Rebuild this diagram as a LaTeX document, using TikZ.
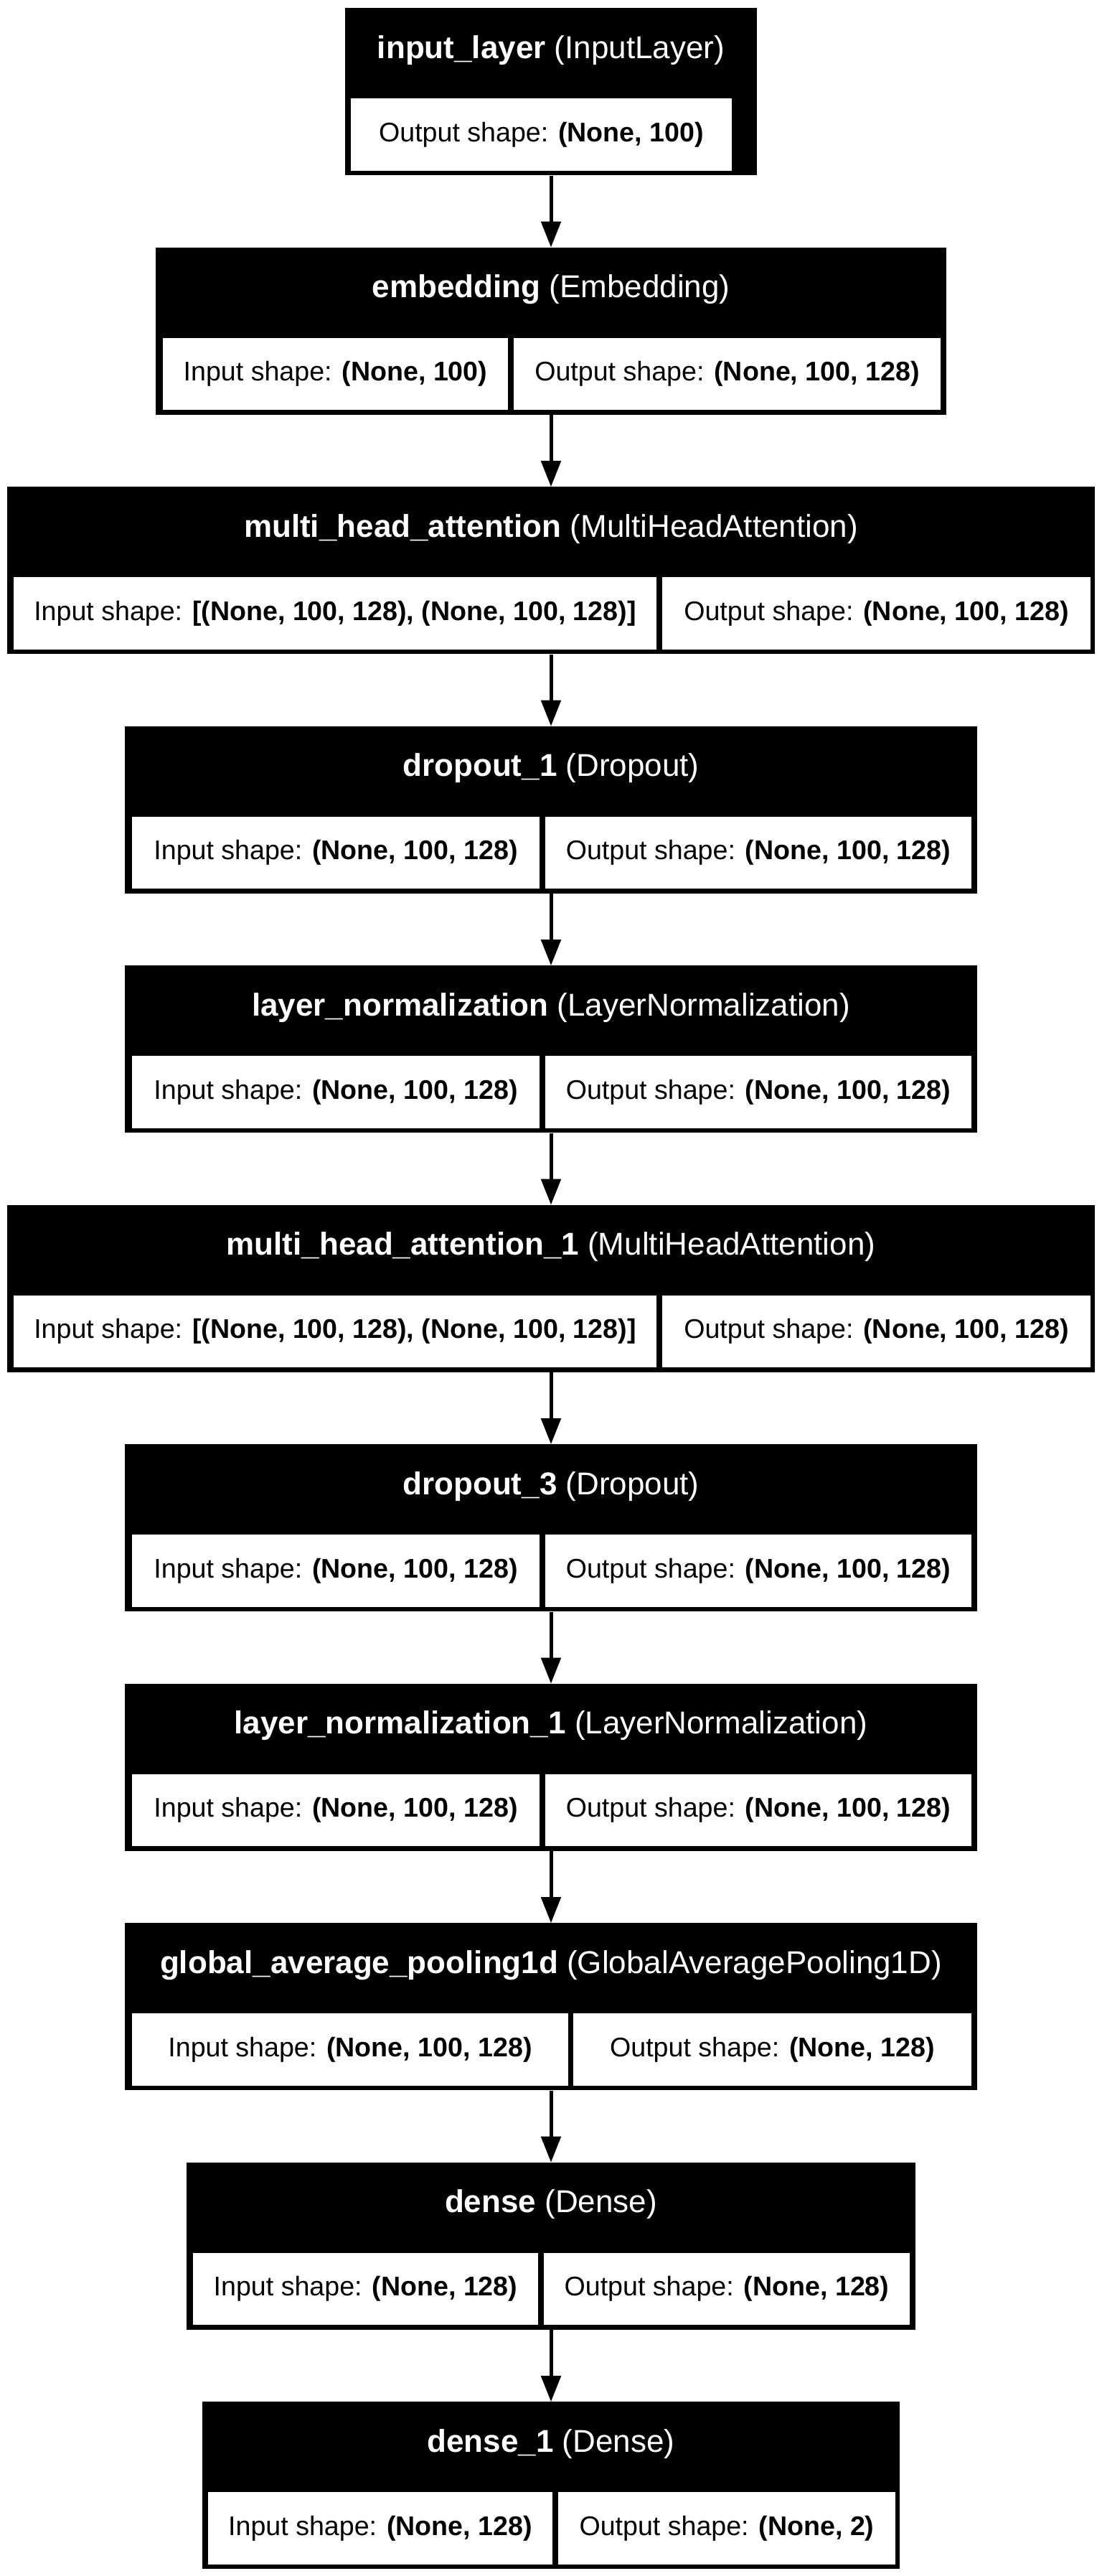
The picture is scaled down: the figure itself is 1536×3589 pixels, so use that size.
\documentclass[tikz,border=0pt]{standalone}
\usepackage{fontspec}
\setmainfont{Liberation Sans}
\usepackage{tikz}
\usetikzlibrary{arrows.meta}
\newcommand{\layerfont}{\fontsize{44}{53}\selectfont}
\newcommand{\shapefont}{\fontsize{37.6}{45}\selectfont}
\tikzstyle{layer} = [rectangle, fill=black, inner sep=0pt, minimum height=233pt]
\tikzstyle{title} = [anchor=base, text=white, inner sep=0pt, font=\layerfont]
\tikzstyle{cell} = [rectangle, fill=white, inner sep=0pt, minimum height=100.5pt,
                 text height=28pt, text depth=8.5pt, font=\shapefont]
\tikzstyle{flow} = [line width=5pt, -{Triangle[length=36pt, width=27pt]}]

\begin{document}
\begin{tikzpicture}[x=1pt, y=-1pt]

\fill[white] (0,0) rectangle (1536,3589);

% input layer
\node [layer, minimum width=574pt] (inlayer) at (768,127.9) {};
\node [title] (inlayer-t) at (768,81.4) {\textbf{input\_layer} (InputLayer)};
\node [cell, minimum width=531pt] (inlayer-out) at (754.5,187.65) {Output shape: \textbf{(None, 100)}};

% embedding
\node [layer, minimum width=1102pt] (embed) at (768,461.4) {};
\node [title] (embed-t) at (768,414.9) {\textbf{embedding} (Embedding)};
\node [cell, minimum width=481pt] (embed-in) at (467.5,521.15) {Input shape: \textbf{(None, 100)}};
\node [cell, minimum width=595pt] (embed-out) at (1013.5,521.15) {Output shape: \textbf{(None, 100, 128)}};

% attention
\node [layer, minimum width=1516pt] (mha) at (768,794.9) {};
\node [title] (mha-t) at (768,748.4) {\textbf{multi\_head\_attention} (MultiHeadAttention)};
\node [cell, minimum width=896pt] (mha-in) at (467,854.65) {Input shape: \textbf{[(None, 100, 128), (None, 100, 128)]}};
\node [cell, minimum width=597pt] (mha-out) at (1221.5,854.65) {Output shape: \textbf{(None, 100, 128)}};

\node [layer, minimum width=1188pt] (drop1) at (768,1128.4) {};
\node [title] (drop1-t) at (768,1081.9) {\textbf{dropout\_1} (Dropout)};
\node [cell, minimum width=568pt] (drop1-in) at (468,1188.15) {Input shape: \textbf{(None, 100, 128)}};
\node [cell, minimum width=594pt] (drop1-out) at (1057,1188.15) {Output shape: \textbf{(None, 100, 128)}};

\node [layer, minimum width=1188pt] (norm) at (768,1461.9) {};
\node [title] (norm-t) at (768,1415.4) {\textbf{layer\_normalization} (LayerNormalization)};
\node [cell, minimum width=568pt] (norm-in) at (468,1521.65) {Input shape: \textbf{(None, 100, 128)}};
\node [cell, minimum width=594pt] (norm-out) at (1057,1521.65) {Output shape: \textbf{(None, 100, 128)}};

% second attention
\node [layer, minimum width=1516pt] (mha1) at (768,1795.4) {};
\node [title] (mha1-t) at (768,1748.9) {\textbf{multi\_head\_attention\_1} (MultiHeadAttention)};
\node [cell, minimum width=896pt] (mha1-in) at (467,1855.15) {Input shape: \textbf{[(None, 100, 128), (None, 100, 128)]}};
\node [cell, minimum width=597pt] (mha1-out) at (1221.5,1855.15) {Output shape: \textbf{(None, 100, 128)}};

\node [layer, minimum width=1188pt] (drop3) at (768,2128.9) {};
\node [title] (drop3-t) at (768,2082.4) {\textbf{dropout\_3} (Dropout)};
\node [cell, minimum width=568pt] (drop3-in) at (468,2188.65) {Input shape: \textbf{(None, 100, 128)}};
\node [cell, minimum width=594pt] (drop3-out) at (1057,2188.65) {Output shape: \textbf{(None, 100, 128)}};

\node [layer, minimum width=1188pt] (norm1) at (768,2462.4) {};
\node [title] (norm1-t) at (768,2415.9) {\textbf{layer\_normalization\_1} (LayerNormalization)};
\node [cell, minimum width=568pt] (norm1-in) at (468,2522.15) {Input shape: \textbf{(None, 100, 128)}};
\node [cell, minimum width=594pt] (norm1-out) at (1057,2522.15) {Output shape: \textbf{(None, 100, 128)}};

% pooling and dense head
\node [layer, minimum width=1188pt] (gap) at (768,2795.9) {};
\node [title] (gap-t) at (768,2749.4) {\textbf{global\_average\_pooling1d} (GlobalAveragePooling1D)};
\node [cell, minimum width=608pt] (gap-in) at (488,2855.65) {Input shape: \textbf{(None, 100, 128)}};
\node [cell, minimum width=555pt] (gap-out) at (1076.5,2855.65) {Output shape: \textbf{(None, 128)}};

\node [layer, minimum width=1016pt] (dense) at (768,3129.4) {};
\node [title] (dense-t) at (768,3082.9) {\textbf{dense} (Dense)};
\node [cell, minimum width=481pt] (dense-in) at (509.5,3189.15) {Input shape: \textbf{(None, 128)}};
\node [cell, minimum width=510pt] (dense-out) at (1013,3189.15) {Output shape: \textbf{(None, 128)}};

\node [layer, minimum width=972pt] (dense1) at (768,3462.9) {};
\node [title] (dense1-t) at (768,3416.4) {\textbf{dense\_1} (Dense)};
\node [cell, minimum width=480pt] (dense1-in) at (530,3522.65) {Input shape: \textbf{(None, 128)}};
\node [cell, minimum width=470pt] (dense1-out) at (1013,3522.65) {Output shape: \textbf{(None, 2)}};

\foreach \a/\b in {inlayer/embed, embed/mha, mha/drop1, drop1/norm, norm/mha1,
                   mha1/drop3, drop3/norm1, norm1/gap, gap/dense, dense/dense1}
	\draw [flow] (\a.south) -- (\b.north);

\end{tikzpicture}
\end{document}
